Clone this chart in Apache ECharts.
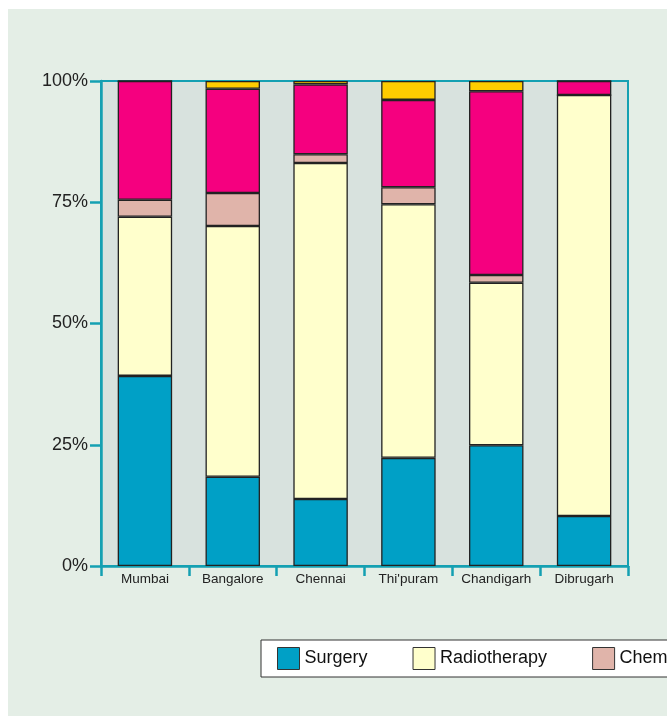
<!DOCTYPE html>
<html>
<head>
<meta charset="utf-8">
<script src="https://cdn.jsdelivr.net/npm/echarts@6/dist/echarts.min.js"></script>
<style>
html,body{margin:0;padding:0;background:#ffffff;}
#chart{width:667px;height:724px;}
</style>
</head>
<body>
<div id="chart"></div>
<script>
var categories = ["Mumbai", "Bangalore", "Chennai", "Thi'puram", "Chandigarh", "Dibrugarh"];
var surgery      = [39.2, 18.4, 13.8, 22.3, 24.9, 10.3];
var radiotherapy = [32.8, 51.7, 69.3, 52.3, 33.5, 86.8];
var chemotherapy = [3.5, 6.8, 1.8, 3.5, 1.6, 0];
var combination  = [24.5, 21.5, 14.4, 18.0, 37.9, 2.9];
var others       = [0, 1.6, 0.7, 3.9, 2.1, 0];
var yTicks = [0, 25, 50, 75, 100];

var seriesNames = ["Surgery", "Radiotherapy", "Chemotherapy", "Combination", "Others"];
var seriesData = [surgery, radiotherapy, chemotherapy, combination, others];
var seriesColors = ["#00a0c6", "#ffffcc", "#e0b4aa", "#f5007f", "#ffcc00"];

var chart = echarts.init(document.getElementById('chart'));
var teal = '#14a0b2';

var series = seriesNames.map(function (name, i) {
  return {
    name: name,
    type: 'bar',
    stack: 'total',
    barWidth: '62%',
    data: seriesData[i],
    itemStyle: { color: seriesColors[i], borderColor: '#222', borderWidth: 1.3 },
    emphasis: { disabled: true }
  };
});

chart.setOption({
  animation: false,
  backgroundColor: 'transparent',
  textStyle: { fontFamily: 'Liberation Sans, Arial, sans-serif' },
  graphic: [{
    type: 'rect', z: -10, silent: true,
    shape: { x: 8, y: 9, width: 659, height: 707 },
    style: { fill: '#e4eee6' }
  }],
  grid: {
    left: 101, right: 39, top: 81, bottom: 158,
    show: true, backgroundColor: '#d8e2de',
    borderColor: teal, borderWidth: 2
  },
  legend: {
    left: 261, top: 640, width: 900,
    orient: 'horizontal',
    data: seriesNames,
    itemWidth: 22, itemHeight: 22, itemGap: 45, itemTextGap: 5,
    backgroundColor: '#ffffff',
    borderColor: '#333', borderWidth: 1,
    padding: [7, 16, 7, 16],
    icon: 'rect',
    itemStyle: { borderColor: '#333', borderWidth: 1 },
    textStyle: { fontSize: 18, color: '#111', fontFamily: 'Liberation Sans, Arial, sans-serif' }
  },
  xAxis: {
    type: 'category',
    data: categories,
    axisLine: { show: true, lineStyle: { color: teal, width: 2.5 } },
    axisTick: { show: true, length: 10, lineStyle: { color: teal, width: 2.5 } },
    axisLabel: { color: '#222', fontSize: 13.5, margin: 6, interval: 0 },
    splitLine: { show: false }
  },
  yAxis: {
    type: 'value',
    min: 0, max: 100, interval: 25,
    axisLine: { show: true, lineStyle: { color: teal, width: 2.5 } },
    axisTick: { show: true, length: 11, lineStyle: { color: teal, width: 2.5 } },
    axisLabel: {
      color: '#222', fontSize: 18, margin: 13,
      formatter: function (v) { return yTicks.indexOf(v) >= 0 ? v + '%' : ''; }
    },
    splitLine: { show: false }
  },
  series: series
});
</script>
</body>
</html>
